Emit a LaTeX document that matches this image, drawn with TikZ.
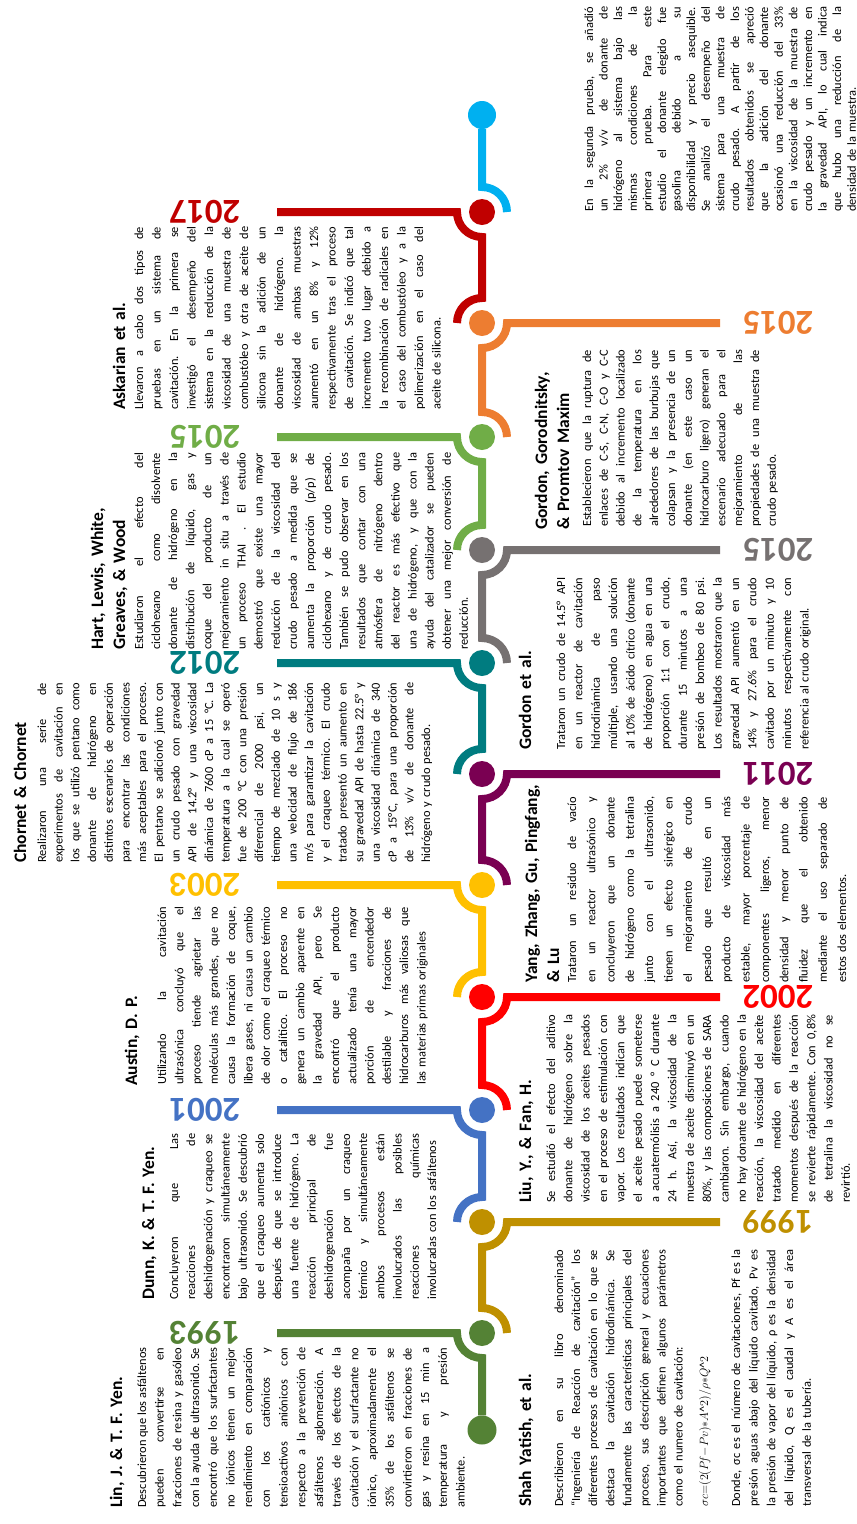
\documentclass[tikz,border=0pt]{standalone}
\usepackage{fontspec}
\setmainfont{Carlito}
\usetikzlibrary{calc}
\definecolor{c93}{HTML}{548235}
\definecolor{c99}{HTML}{BF9000}
\definecolor{c01}{HTML}{4472C4}
\definecolor{c02}{HTML}{FF0000}
\definecolor{c03}{HTML}{FFC000}
\definecolor{c11}{HTML}{7A0052}
\definecolor{c12}{HTML}{007C80}
\definecolor{c15a}{HTML}{767171}
\definecolor{c15b}{HTML}{70AD47}
\definecolor{c15c}{HTML}{ED7D31}
\definecolor{c17}{HTML}{C00000}
\definecolor{cend}{HTML}{00B0F0}
% one justified line of a text column
\newlength{\colw}
\newcommand{\jl}[1]{{\spaceskip=.23em plus 1fil\xspaceskip=.23em plus 1fil
  \makebox[\colw][s]{#1}}\par}

\begin{document}
\begin{tikzpicture}[x=1pt, y=-1pt,
  rail/.style={line width=8pt},
  dot/.style={circle, inner sep=0pt, minimum size=26pt},
  yr/.style={font=\fontsize{35}{35}\selectfont\bfseries, rotate=180, inner sep=0pt},
  hd/.style={font=\fontsize{17.5}{22}\selectfont\bfseries, rotate=90, anchor=base west,
    inner sep=0pt, text width=260pt, align=left},
  txt/.style 2 args={font=\fontsize{12.4}{#1}\selectfont, rotate=90, anchor=base west,
    inner sep=0pt, text width=#2, execute at begin node={\setlength{\colw}{#2}}}]
  \useasboundingbox (0,0) rectangle (857,1524);

  % dots on the time line
  \node[dot, minimum size=29pt, fill=c93] (d0) at (482,1430) {};
  \node[dot, fill=c93] (d93) at (482,1333) {};
  \node[dot, fill=c99] (d99) at (482,1222) {};
  \node[dot, fill=c01] (d01) at (482,1110) {};
  \node[dot, fill=c02] (d02) at (482,997) {};
  \node[dot, fill=c03] (d03) at (482,885) {};
  \node[dot, fill=c11] (d11) at (482,774) {};
  \node[dot, fill=c12] (d12) at (482,663) {};
  \node[dot, fill=c15a] (d15a) at (482,550) {};
  \node[dot, fill=c15b] (d15b) at (482,437) {};
  \node[dot, fill=c15c] (d15c) at (482,323) {};
  \node[dot, fill=c17] (d17) at (482,212) {};
  \node[dot, minimum size=28pt, fill=cend] (dend) at (482,115) {};

  % hooks
  \draw[rail, draw=c93] (277,0 |- d93) -- ($(d93)+(-25,0)$)
    arc[start angle=180, end angle=90, radius=25] -- (d0);
  \foreach \i/\j/\s/\e/\c in {99/93/1/720/c99, 01/99/-1/277/c01, 02/01/1/720/c02,
      03/02/-1/277/c03, 11/03/1/720/c11, 12/11/-1/277/c12, 15a/12/1/720/c15a,
      15b/15a/-1/277/c15b, 15c/15b/1/720/c15c, 17/15c/-1/277/c17}
    \draw[rail, draw=\c] (\e,0 |- d\i) -- ($(d\i)+(\s*25,0)$)
      arc[start angle={90-90*\s}, end angle=90, radius=25] -- ($(d\j)+(0,-25)$)
      arc[start angle=270, end angle={270+90*\s}, radius=25];
  \draw[rail, draw=cend] (dend) -- ($(d17)+(0,-25)$)
    arc[start angle=270, end angle=360, radius=25];

  % years
  \node[yr, text=c93] (y93) at (205,1333) {1993};
  \node[yr, text=c99] (y99) at (778,1222) {1999};
  \node[yr, text=c01] (y01) at (205,1110) {2001};
  \node[yr, text=c02] (y02) at (778,997) {2002};
  \node[yr, text=c03] (y03) at (205,885) {2003};
  \node[yr, text=c11] (y11) at (778,774) {2011};
  \node[yr, text=c12] (y12) at (205,663) {2012};
  \node[yr, text=c15a] (y15a) at (778,550) {2015};
  \node[yr, text=c15b] (y15b) at (205,437) {2015};
  \node[yr, text=c15c] (y15c) at (778,323) {2015};
  \node[yr, text=c17] (y17) at (205,212) {2017};

  % left column
  \node[hd] (linH) at (122,1508) {Lin, J. \& T. F. Yen.};
  \node[txt={17.7}{160pt}] (lin) at (146,1508) {%
    \jl{Descubrieron que los asfáltenos}
    \jl{pueden convertirse en}
    \jl{fracciones de resina y gasóleo}
    \jl{con la ayuda de ultrasonido. Se}
    \jl{encontró que los surfactantes}
    \jl{no iónicos tienen un mejor}
    \jl{rendimiento en comparación}
    \jl{con los catiónicos y}
    \jl{tensioactivos aniónicos con}
    \jl{respecto a la prevención de}
    \jl{asfáltenos aglomeración. A}
    \jl{través de los efectos de la}
    \jl{cavitación y el surfactante no}
    \jl{iónico, aproximadamente el}
    \jl{35\% de los asfáltenos se}
    \jl{convirtieron en fracciones de}
    \jl{gas y resina en 15 min a}
    \jl{temperatura y presión}
    ambiente.};

  \node[hd] (dunnH) at (154,1300) {Dunn, K. \& T. F. Yen.};
  \node[txt={17.2}{166pt}] (dunn) at (178,1300) {%
    \jl{Concluyeron que Las}
    \jl{reacciones de}
    \jl{deshidrogenación y craqueo se}
    \jl{encontraron simultáneamente}
    \jl{bajo ultrasonido. Se descubrió}
    \jl{que el craqueo aumenta solo}
    \jl{después de que se introduce}
    \jl{una fuente de hidrógeno. La}
    \jl{reacción principal de}
    \jl{deshidrogenación fue}
    \jl{acompaña por un craqueo}
    \jl{térmico y simultáneamente}
    \jl{ambos procesos están}
    \jl{involucrados las posibles}
    \jl{reacciones químicas}
    involucradas con los asfáltenos};

  \node[hd] (austinH) at (137,1086) {Austin, D. P.};
  \node[txt={17.3}{178pt}] (austin) at (166,1085) {%
    \jl{Utilizando la cavitación}
    \jl{ultrasónica concluyó que el}
    \jl{proceso tiende agrietar las}
    \jl{moléculas más grandes, que no}
    \jl{causa la formación de coque,}
    \jl{libera gases, ni causa un cambio}
    \jl{de olor como el craqueo térmico}
    \jl{o catalítico. El proceso no}
    \jl{genera un cambio aparente en}
    \jl{la gravedad API, pero Se}
    \jl{encontró que el producto}
    \jl{actualizado tenía una mayor}
    \jl{porción de encendedor}
    \jl{destilable y fracciones de}
    \jl{hidrocarburos más valiosas que}
    las materias primas originales};

  \node[hd] (chornetH) at (26,863) {Chornet \& Chornet};
  \node[txt={16.7}{180pt}] (chornet) at (46,863) {%
    \jl{Realizaron una serie de}
    \jl{experimentos de cavitación en}
    \jl{los que se utilizó pentano como}
    \jl{donante de hidrógeno en}
    \jl{distintos escenarios de operación}
    \jl{para encontrar las condiciones}
    \jl{más aceptables para el proceso.}
    \jl{El pentano se adicionó junto con}
    \jl{un crudo pesado con gravedad}
    \jl{API de 14.2° y una viscosidad}
    \jl{dinámica de 7600 cP a 15 °C. La}
    \jl{temperatura a la cual se operó}
    \jl{fue de 200 °C con una presión}
    \jl{diferencial de 2000 psi, un}
    \jl{tiempo de mezclado de 10 s y}
    \jl{una velocidad de flujo de 186}
    \jl{m/s para garantizar la cavitación}
    \jl{y el craqueo térmico. El crudo}
    \jl{tratado presentó un aumento en}
    \jl{su gravedad API de hasta 22.5° y}
    \jl{una viscosidad dinámica de 340}
    \jl{cP a 15°C, para una proporción}
    \jl{de 13\% v/v de donante de}
    hidrógeno y crudo pesado.};

  \node[hd] (hartH) at (103,650) {Hart, Lewis, White,\\Greaves, \& Wood};
  \node[txt={17.1}{197pt}] (hart) at (143,650) {%
    \jl{Estudiaron el efecto del}
    \jl{ciclohexano como disolvente}
    \jl{donante de hidrógeno en la}
    \jl{distribución de líquido, gas y}
    \jl{coque del producto de un}
    \jl{mejoramiento in situ a través de}
    \jl{un proceso THAI . El estudio}
    \jl{demostró que existe una mayor}
    \jl{reducción de la viscosidad del}
    \jl{crudo pesado a medida que se}
    \jl{aumenta la proporción (p/p) de}
    \jl{ciclohexano y de crudo pesado.}
    \jl{También se pudo observar en los}
    \jl{resultados que contar con una}
    \jl{atmósfera de nitrógeno dentro}
    \jl{del reactor es más efectivo que}
    \jl{una de hidrógeno, y que con la}
    \jl{ayuda del catalizador se pueden}
    \jl{obtener una mejor conversión de}
    reducción.};

  \node[hd] (askH) at (125,410) {Askarian et al.};
  \node[txt={17.5}{183pt}] (ask) at (143,410) {%
    \jl{Llevaron a cabo dos tipos de}
    \jl{pruebas en un sistema de}
    \jl{cavitación. En la primera se}
    \jl{investigó el desempeño del}
    \jl{sistema en la reducción de la}
    \jl{viscosidad de una muestra de}
    \jl{combustóleo y otra de aceite de}
    \jl{silicona sin la adición de un}
    \jl{donante de hidrógeno. la}
    \jl{viscosidad de ambas muestras}
    \jl{aumentó en un 8\% y 12\%}
    \jl{respectivamente tras el proceso}
    \jl{de cavitación. Se indicó que tal}
    \jl{incremento tuvo lugar debido a}
    \jl{la recombinación de radicales en}
    \jl{el caso del combustóleo y a la}
    \jl{polimerización en el caso del}
    aceite de silicona.};

  % right column
  \node[hd] (shahH) at (531,1507) {Shah Yatish, et al.};
  \node[txt={17.1}{257pt}] (shah) at (563,1507) {%
    \jl{Describieron en su libro denominado}
    \jl{“Ingeniería de Reacción de cavitación” los}
    \jl{diferentes procesos de cavitación en lo que se}
    \jl{destaca la cavitación hidrodinámica. Se}
    \jl{fundamente las características principales del}
    \jl{proceso, sus descripción general y ecuaciones}
    \jl{importantes que definen algunos parámetros}
    como el numero de cavitación:};
  \node[txt={17.1}{257pt}] (shahF) at (708,1507)
    {$\sigma c{=}(2(P\!f{-}Pv){\ast}A$\textasciicircum$2)/\rho{\ast}Q$\textasciicircum$2$};
  \node[txt={17.7}{257pt}] (shah2) at (740,1507) {%
    \jl{Donde, σc es el número de cavitaciones, Pf es la}
    \jl{presión aguas abajo del líquido cavitado, Pv es}
    \jl{la presión de vapor del líquido, ρ es la densidad}
    \jl{del líquido, Q es el caudal y A es el área}
    transversal de la tubería.};

  \node[hd] (liuH) at (531,1203) {Liu, Y., \& Fan, H.};
  \node[txt={17.35}{188pt}] (liu) at (555,1203) {%
    \jl{Se estudió el efecto del aditivo}
    \jl{donante de hidrógeno sobre la}
    \jl{viscosidad de los aceites pesados}
    \jl{en el proceso de estimulación con}
    \jl{vapor. Los resultados indican que}
    \jl{el aceite pesado puede someterse}
    \jl{a acuatermólisis a 240 ° C durante}
    \jl{24 h. Así, la viscosidad de la}
    \jl{muestra de aceite disminuyó en un}
    \jl{80\%, y las composiciones de SARA}
    \jl{cambiaron. Sin embargo, cuando}
    \jl{no hay donante de hidrógeno en la}
    \jl{reacción, la viscosidad del aceite}
    \jl{tratado medido en diferentes}
    \jl{momentos después de la reacción}
    \jl{se revierte rápidamente. Con 0,8\%}
    \jl{de tetralina la viscosidad no se}
    revirtió.};

  \node[hd] (yangH) at (537,983) {Yang, Zhang, Gu, Pingfang,\\\& Lu};
  \node[txt={19.3}{186pt}] (yang) at (576,983) {%
    \jl{Trataron un residuo de vacío}
    \jl{en un reactor ultrasónico y}
    \jl{concluyeron que un donante}
    \jl{de hidrógeno como la tetralina}
    \jl{junto con el ultrasonido,}
    \jl{tienen un efecto sinérgico en}
    \jl{el mejoramiento de crudo}
    \jl{pesado que resultó en un}
    \jl{producto de viscosidad más}
    \jl{estable, mayor porcentaje de}
    \jl{componentes ligeros, menor}
    \jl{densidad y menor punto de}
    \jl{fluidez que el obtenido}
    \jl{mediante el uso separado de}
    estos dos elementos.};

  \node[hd] (gordonH) at (531,750) {Gordon et al.};
  \node[txt={17.4}{172pt}] (gordon) at (565,750) {%
    \jl{Trataron un crudo de 14.5° API}
    \jl{en un reactor de cavitación}
    \jl{hidrodinámica de paso}
    \jl{múltiple, usando una solución}
    \jl{al 10\% de ácido cítrico (donante}
    \jl{de hidrógeno) en agua en una}
    \jl{proporción 1:1 con el crudo,}
    \jl{durante 15 minutos a una}
    \jl{presión de bombeo de 80 psi.}
    \jl{Los resultados mostraron que la}
    \jl{gravedad API aumentó en un}
    \jl{14\% y 27.6\% para el crudo}
    \jl{cavitado por un minuto y 10}
    \jl{minutos respectivamente con}
    referencia al crudo original.};

  \node[hd] (ggH) at (547,530) {Gordon, Gorodnitsky,\\\& Promtov Maxim};
  \node[txt={16.8}{177pt}] (gg) at (591,527) {%
    \jl{Establecieron que la ruptura de}
    \jl{enlaces de C-S, C-N, C-O y C-C}
    \jl{debido al incremento localizado}
    \jl{de la temperatura en los}
    \jl{alrededores de las burbujas que}
    \jl{colapsan y la presencia de un}
    \jl{donante (en este caso un}
    \jl{hidrocarburo ligero) generan el}
    \jl{escenario adecuado para el}
    \jl{mejoramiento de las}
    \jl{propiedades de una muestra de}
    crudo pesado.};

  \node[txt={14.6}{205pt}] (ask2) at (593,212) {%
    \jl{En la segunda prueba, se añadió}
    \jl{un 2\% v/v de donante de}
    \jl{hidrógeno al sistema bajo las}
    \jl{mismas condiciones de la}
    \jl{primera prueba. Para este}
    \jl{estudio el donante elegido fue}
    \jl{gasolina debido a su}
    \jl{disponibilidad y precio asequible.}
    \jl{Se analizó el desempeño del}
    \jl{sistema para una muestra de}
    \jl{crudo pesado. A partir de los}
    \jl{resultados obtenidos se apreció}
    \jl{que la adición del donante}
    \jl{ocasionó una reducción del 33\%}
    \jl{en la viscosidad de la muestra de}
    \jl{crudo pesado y un incremento en}
    \jl{la gravedad API, lo cual indica}
    \jl{que hubo una reducción de la}
    densidad de la muestra.};
\end{tikzpicture}
\end{document}
